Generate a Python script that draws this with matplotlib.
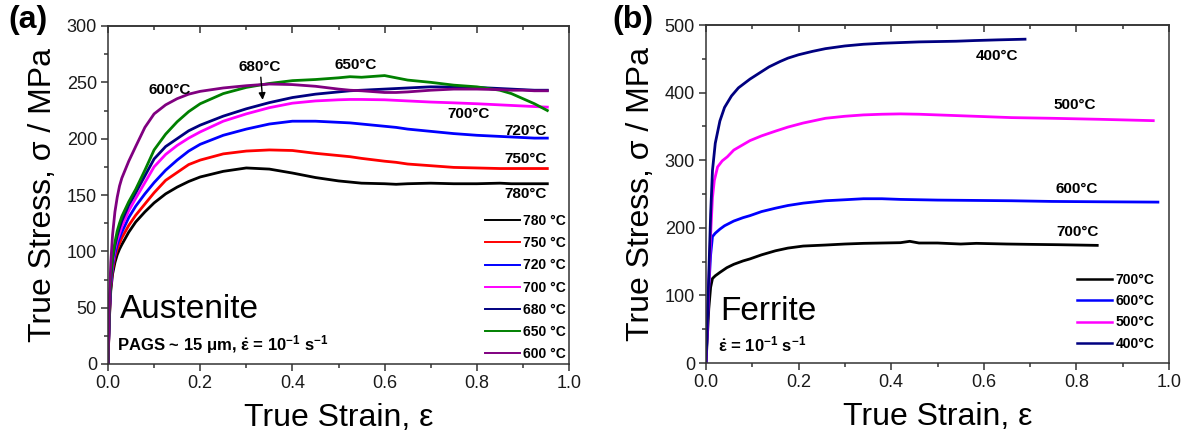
import matplotlib
matplotlib.use("Agg")
import matplotlib.pyplot as plt
from matplotlib.ticker import MultipleLocator
from matplotlib.lines import Line2D

plt.rcParams['font.family'] = ['Liberation Sans', 'DejaVu Sans']
plt.rcParams['mathtext.fontset'] = 'custom'
plt.rcParams['mathtext.rm'] = 'Liberation Sans'
plt.rcParams['mathtext.bf'] = 'Liberation Sans:bold'
plt.rcParams['mathtext.it'] = 'Liberation Sans:italic'

# ---------------- Panel (a): Austenite ----------------
strain_a = [0, 0.003, 0.006, 0.01, 0.015, 0.02, 0.025, 0.03, 0.045, 0.06,
            0.08, 0.1, 0.125, 0.15, 0.175, 0.2, 0.25, 0.3, 0.35, 0.4,
            0.45, 0.5, 0.525, 0.55, 0.6, 0.625, 0.65, 0.7, 0.75, 0.8,
            0.85, 0.875, 0.9, 0.925, 0.953]

stress_780 = [0, 40, 65, 80, 90, 97, 102, 106, 117, 126,
              135, 143, 151, 157, 162, 166, 171, 174, 173, 169.5,
              165.5, 162.5, 161.5, 160.5, 160, 159.5, 160, 160.5, 160, 160,
              160.5, 160, 160, 160, 160]
stress_750 = [0, 42, 68, 84, 95, 102, 107, 112, 123, 132,
              142, 152, 163, 170, 177, 181, 186.5, 189, 190, 189.5,
              187, 185, 184, 182.5, 180, 179, 177.5, 176, 174.5, 174,
              173.5, 173.5, 173.5, 173.5, 173.5]
stress_720 = [0, 44, 70, 87, 98, 106, 112, 117, 130, 140,
              151, 161, 172, 181, 189, 195, 203, 208.5, 213, 215.5,
              215.5, 214.5, 214, 213, 211, 210, 208.5, 206.5, 204.5, 203,
              202, 201.5, 201, 200.5, 200.5]
stress_700 = [0, 46, 73, 90, 102, 110, 116, 122, 136, 147,
              161, 175, 186, 194, 200.5, 206, 215.5, 222, 227.5, 231.5,
              233.5, 234.5, 234.8, 234.8, 234.5, 234, 233.5, 232.5, 231.8, 231,
              230, 229.5, 229, 228.5, 228]
stress_680 = [0, 47, 75, 93, 105, 114, 121, 127, 141, 152,
              167, 182, 193, 200, 207, 212, 220, 226.5, 232, 236.5,
              239.5, 241.5, 242.5, 243, 244, 244.5, 245, 246, 245.8, 245.5,
              244.5, 244, 243.5, 243, 243]
stress_650 = [0, 48, 77, 95, 108, 118, 125, 131, 144, 155,
              172, 190, 204, 215, 224, 231, 240, 245.5, 249, 251.5,
              252.5, 254, 255, 254.5, 256, 254, 252, 250, 247.5, 246,
              243, 240, 235.5, 231, 225]
stress_600 = [0, 55, 90, 115, 135, 148, 158, 165, 180, 193,
              210, 222, 230, 235.5, 239.5, 242, 245, 247, 248.5, 248,
              246.5, 244, 243, 242.5, 241, 241, 241.5, 243, 244, 244,
              243.5, 243, 243, 242.5, 242.5]

series_a = [("780 °C", "#000000", stress_780),
            ("750 °C", "#ff0000", stress_750),
            ("720 °C", "#0000ff", stress_720),
            ("700 °C", "#ff00ff", stress_700),
            ("680 °C", "#000080", stress_680),
            ("650 °C", "#008000", stress_650),
            ("600 °C", "#800080", stress_600)]

labels_a = [("600°C", 0.133, 243.5), ("680°C", 0.33, 264), ("650°C", 0.538, 265.6),
            ("700°C", 0.783, 221.5), ("720°C", 0.905, 206.8),
            ("750°C", 0.905, 181.8), ("780°C", 0.905, 150.9)]

# ---------------- Panel (b): Ferrite ----------------
strain_400 = [0, 0.003, 0.006, 0.01, 0.014, 0.02, 0.03, 0.04, 0.055, 0.07,
              0.095, 0.12, 0.136, 0.16, 0.177, 0.2, 0.23, 0.258, 0.3, 0.34,
              0.38, 0.42, 0.46, 0.5, 0.54, 0.58, 0.63, 0.689]
stress_400 = [0, 60, 130, 220, 285, 325, 358, 378, 395, 407,
              420, 431, 438, 446, 451, 456, 461, 465, 469, 471.5,
              473, 474, 475, 475.5, 476, 477, 478, 479]

strain_500 = [0, 0.003, 0.006, 0.01, 0.014, 0.018, 0.025, 0.035, 0.046, 0.06,
              0.08, 0.095, 0.12, 0.15, 0.177, 0.21, 0.258, 0.3, 0.34, 0.38,
              0.42, 0.46, 0.5, 0.58, 0.66, 0.747, 0.85, 0.966]
stress_500 = [0, 55, 115, 190, 245, 270, 290, 299, 305, 315,
              323, 329, 336, 343, 349, 355, 362, 365, 367, 368,
              368.5, 368, 367, 365, 363, 362, 360.5, 358.5]

strain_600 = [0, 0.003, 0.006, 0.01, 0.014, 0.02, 0.03, 0.04, 0.06, 0.08,
              0.095, 0.12, 0.15, 0.177, 0.21, 0.258, 0.3, 0.34, 0.38, 0.42,
              0.5, 0.58, 0.66, 0.747, 0.85, 0.976]
stress_600b = [0, 55, 110, 160, 187, 192, 198, 203, 210, 215,
               218, 224, 229, 233, 236.5, 240, 241.5, 243, 243, 242,
               241, 240.5, 240, 239, 238.5, 238]

strain_700 = [0, 0.003, 0.006, 0.01, 0.014, 0.02, 0.03, 0.045, 0.06, 0.08,
              0.095, 0.12, 0.15, 0.177, 0.21, 0.258, 0.3, 0.34, 0.38, 0.42,
              0.44, 0.46, 0.5, 0.55, 0.584, 0.65, 0.7, 0.76, 0.845]
stress_700b = [0, 40, 80, 112, 125, 129, 134, 141, 146, 151,
               154, 160, 166, 170, 173, 174.5, 176, 177, 177.5, 178,
               180, 177.5, 177.5, 176, 177, 176, 175.5, 175, 174]

series_b = [("700°C", "#000000", strain_700, stress_700b),
            ("600°C", "#0000ff", strain_600, stress_600b),
            ("500°C", "#ff00ff", strain_500, stress_500),
            ("400°C", "#000080", strain_400, stress_400)]

labels_b = [("400°C", 0.629, 453.7), ("500°C", 0.796, 381.5),
            ("600°C", 0.80, 257.6), ("700°C", 0.803, 193.6)]

# ---------------- Figure ----------------
W, H = 1189, 437
fig = plt.figure(figsize=(W / 100, H / 100), dpi=100)

def frac_axes(l, r, t, b):
    return fig.add_axes([l / W, (H - b) / H, (r - l) / W, (b - t) / H])

axA = frac_axes(108, 569, 26, 364)
axB = frac_axes(706, 1169, 25, 363)

spine_c = "#333333"
tick_fs = 13

def style_axis(ax, ymax, ymaj, ymin):
    ax.set_xlim(0, 1.0)
    ax.set_ylim(0, ymax)
    ax.xaxis.set_major_locator(MultipleLocator(0.2))
    ax.xaxis.set_minor_locator(MultipleLocator(0.1))
    ax.yaxis.set_major_locator(MultipleLocator(ymaj))
    ax.yaxis.set_minor_locator(MultipleLocator(ymin))
    ax.xaxis.set_major_formatter(plt.FuncFormatter(lambda v, p: f"{v:.1f}"))
    for s in ax.spines.values():
        s.set_color(spine_c)
        s.set_linewidth(1.1)
    ax.tick_params(which='both', direction='out', colors=spine_c,
                   labelcolor='#1a1a1a', labelsize=tick_fs, top=False, right=False)
    ax.tick_params(which='major', length=5, width=1.1, pad=3)
    ax.tick_params(which='minor', length=3, width=1.1)
    sec = ax.secondary_xaxis('top')
    sec.xaxis.set_major_locator(MultipleLocator(0.2))
    sec.xaxis.set_minor_locator(MultipleLocator(0.1))
    sec.tick_params(which='both', direction='in', labeltop=False, colors=spine_c)
    sec.tick_params(which='major', length=5, width=1.1)
    sec.tick_params(which='minor', length=3, width=1.1)
    sec.spines['top'].set_color(spine_c)
    sec.spines['top'].set_linewidth(1.1)
    ax.set_xlabel("True Strain, ε", fontsize=23, labelpad=8)
    ax.set_ylabel("True Stress, σ / MPa", fontsize=23, labelpad=6)

# Panel (a)
for lab, col, ys in series_a:
    axA.plot(strain_a, ys, color=col, lw=2.0)
style_axis(axA, 300, 50, 25)
for txt, x, y in labels_a:
    axA.text(x, y, txt, fontsize=11, fontweight='bold', ha='center', va='center')
axA.annotate("", xy=(0.336, 232), xytext=(0.331, 257),
             arrowprops=dict(arrowstyle='-|>', color='black', lw=1.0, mutation_scale=10))
handlesA = [Line2D([], [], color=c, lw=1.4) for _, c, _ in series_a]
legA = axA.legend(handlesA, [l for l, _, _ in series_a], loc='lower right',
                  frameon=False, prop={'size': 10, 'weight': 'bold'},
                  handlelength=2.5, handletextpad=0.25, labelspacing=0.59,
                  borderaxespad=0.1, borderpad=0.1)
axA.text(0.026, 0.136, "Austenite", transform=axA.transAxes, fontsize=24,
         ha='left', va='baseline')
axA.text(0.02, 0.041, r"PAGS ~ 15 μm, $\mathbf{\dot{ε}}$ = 10$^{\mathbf{-1}}$ s$^{\mathbf{-1}}$",
         transform=axA.transAxes, fontsize=12, fontweight='bold', ha='left', va='baseline')
fig.text(8 / W, (H - 20) / H, "(a)", fontsize=23, fontweight='bold', ha='left', va='center')

# Panel (b)
for lab, col, xs, ys in series_b:
    axB.plot(xs, ys, color=col, lw=2.0)
style_axis(axB, 500, 100, 50)
for txt, x, y in labels_b:
    axB.text(x, y, txt, fontsize=11, fontweight='bold', ha='center', va='center')
handlesB = [Line2D([], [], color=c, lw=1.8) for _, c, _, _ in series_b]
legB = axB.legend(handlesB, [l for l, _, _, _ in series_b], loc='lower right',
                  bbox_to_anchor=(0.98, 0.02),
                  frameon=False, prop={'size': 10, 'weight': 'bold'},
                  handlelength=2.5, handletextpad=0.25, labelspacing=0.52,
                  borderaxespad=0.3, borderpad=0.1)
axB.text(0.03, 0.128, "Ferrite", transform=axB.transAxes, fontsize=24,
         ha='left', va='baseline')
axB.text(0.025, 0.033, r"$\mathbf{\dot{ε}}$ = 10$^{\mathbf{-1}}$ s$^{\mathbf{-1}}$",
         transform=axB.transAxes, fontsize=12, fontweight='bold', ha='left', va='baseline')
fig.text(612 / W, (H - 20) / H, "(b)", fontsize=23, fontweight='bold', ha='left', va='center')

fig.savefig("out.png", dpi=100)
